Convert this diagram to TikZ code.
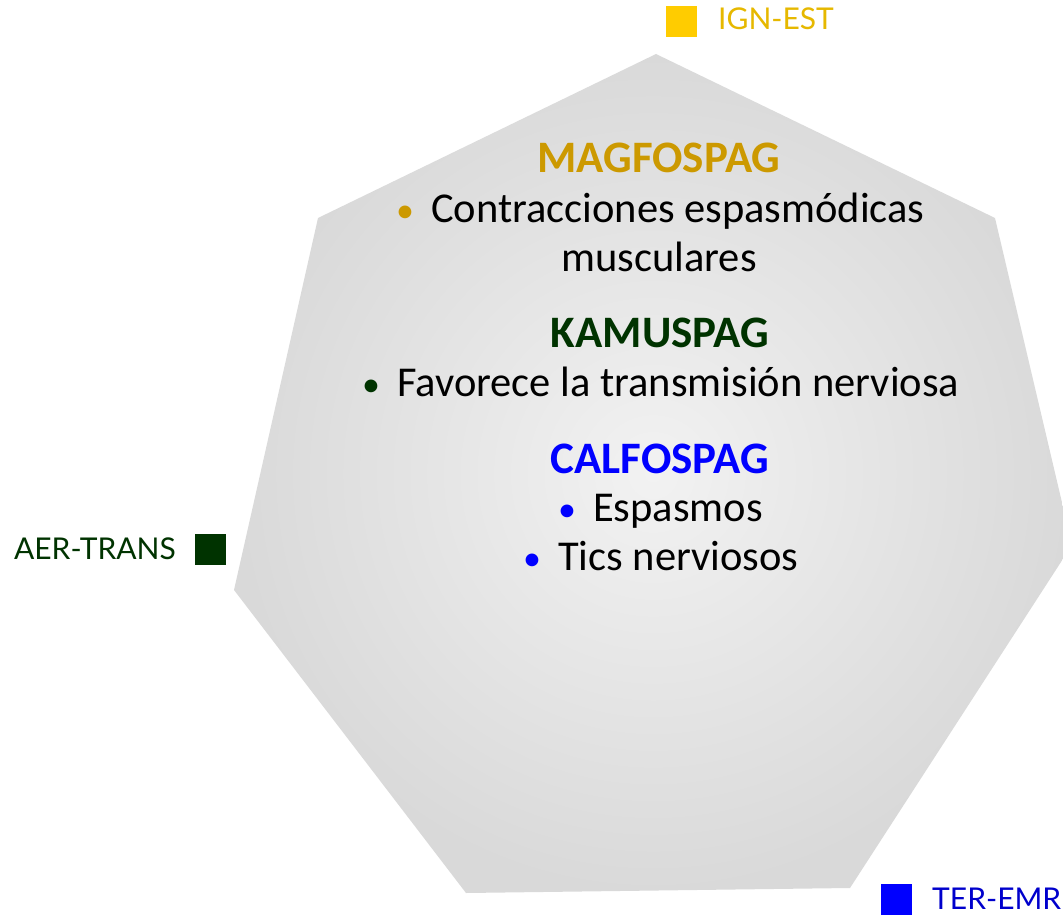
\documentclass[tikz,border=0pt]{standalone}
\usepackage{fontspec}
\setmainfont{Carlito}
\newfontfamily\labelfont{Lato}
\usetikzlibrary{positioning}
\definecolor{gold}{HTML}{CC9900}
\definecolor{goldsq}{HTML}{FFCC00}
\definecolor{goldtx}{HTML}{E6B800}
\definecolor{dgreen}{HTML}{003300}
\definecolor{blu}{HTML}{0000FF}
\definecolor{blutx}{HTML}{0000CC}
\definecolor{edgegray}{HTML}{D9D9D9}
\definecolor{centergray}{HTML}{F2F2F2}
\tikzset{
  title/.style={font=\bfseries\fontsize{45}{50}\selectfont, inner sep=0pt},
  body/.style={font=\fontsize{42.5}{48}\selectfont, inner sep=0pt, text=black},
  sq/.style={minimum size=31pt, inner sep=0pt},
  lab/.style={font=\labelfont\fontsize{30}{33}\selectfont, inner sep=0pt}
}
\newcommand{\bul}[1]{\makebox[35pt][l]{\textcolor{#1}{\fontsize{36}{40}\selectfont •}}}
\begin{document}
\begin{tikzpicture}[x=1pt,y=-1pt]
\useasboundingbox (0,0) rectangle (1063,915);
\shade[inner color=centergray, outer color=edgegray]
  (656,54) -- (995,218) -- (1072,545) -- (850,888) -- (466,893) -- (234,590) -- (318,218) -- cycle;
% labels
\node[sq, fill=goldsq] (sqign) at (681.5,21.5) {};
\node[lab, text=goldtx, anchor=base west] (ign) at (718,30) {IGN-EST};
\node[sq, fill=dgreen] (sqaer) at (210.5,549.5) {};
\node[lab, text=dgreen, anchor=base east] (aer) at (176,559) {AER-TRANS};
\node[sq, fill=blu] (sqter) at (896.5,899.5) {};
\node[lab, text=blutx, anchor=base west] (ter) at (932,909) {TER-EMR};
% content
\node[title, text=gold, anchor=base] (mag) at (659,172) {MAGFOSPAG};
\node[body, anchor=base west] (mag1) at (396,222) {\bul{gold}Contracciones espasmódicas};
\node[body, anchor=base] (mag2) at (659,271) {musculares};
\node[title, text=dgreen, anchor=base] (kam) at (660,347) {KAMUSPAG};
\node[body, anchor=base west] (kam1) at (362,396) {\bul{dgreen}Favorece la transmisión nerviosa};
\node[title, text=blu, anchor=base] (cal) at (660,473) {CALFOSPAG};
\node[body, anchor=base west] (cal1) at (558,521) {\bul{blu}Espasmos};
\node[body, anchor=base west] (cal2) at (523,570) {\bul{blu}Tics nerviosos};
\end{tikzpicture}
\end{document}
